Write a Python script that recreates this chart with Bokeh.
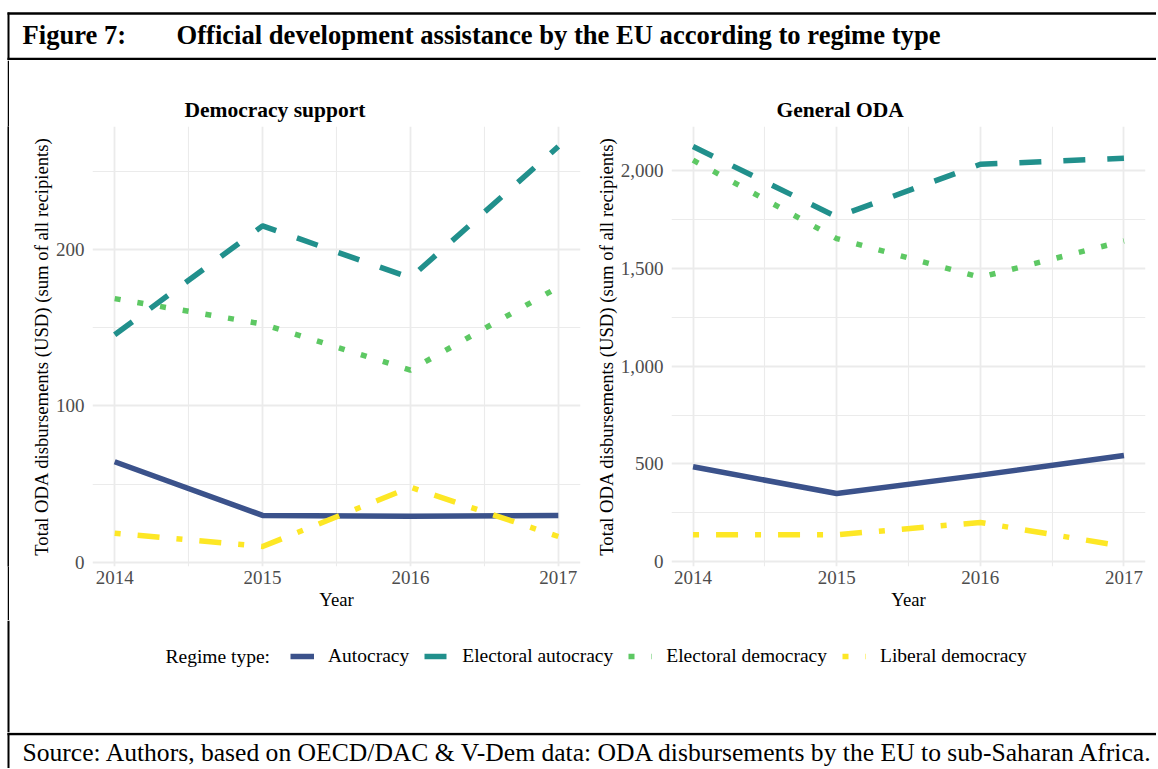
from bokeh.plotting import figure
from bokeh.layouts import column, row
from bokeh.models import (Range1d, FixedTicker, NumeralTickFormatter, Label, Legend,
                          LegendItem, Spacer)
from bokeh.embed import file_html
from bokeh.resources import INLINE

# ---------------- data ----------------
years = [2014, 2015, 2016, 2017]
minor_years = [2014.5, 2015.5, 2016.5]
regimes = ["Autocracy", "Electoral autocracy", "Electoral democracy", "Liberal democracy"]

ds_autocracy = [64.3, 30.0, 29.4, 30.0]
ds_electoral_autocracy = [145.6, 215.2, 182.0, 266.0]
ds_electoral_democracy = [168.7, 152.4, 123.0, 176.0]
ds_liberal_democracy = [18.6, 10.1, 48.0, 16.5]

oda_autocracy = [486, 349, 443, 543]
oda_electoral_autocracy = [2124, 1764, 2033, 2064]
oda_electoral_democracy = [2054, 1653, 1455, 1641]
oda_liberal_democracy = [138, 138, 201, 78]

ds_ticks = [0, 100, 200]
ds_minor = [50, 150, 250]
oda_ticks = [0, 500, 1000, 1500, 2000]
oda_minor = [250, 750, 1250, 1750]

# ---------------- style ----------------
colors = ["#3B528B", "#21908C", "#5DC863", "#FDE725"]
dashes = ["solid", "22 22", "6 17", "6 17 22 17"]
LW = 5.5
SERIF = "Liberation Serif"
TOTAL_W = 1156


def bare(width, height):
    p = figure(width=width, height=height, output_backend="svg", toolbar_location=None,
               x_range=Range1d(0, width), y_range=Range1d(height, 0),
               x_axis_location=None, y_axis_location=None, min_border=0)
    p.grid.visible = False
    p.outline_line_color = None
    p.background_fill_color = "white"
    p.border_fill_color = "white"
    return p


def frame_line(p, x0, y0, x1, y1, w=2.5):
    p.segment(x0=[x0], y0=[y0], x1=[x1], y1=[y1], line_color="black", line_width=w)


def panel(title, series, ticks, minor, width, bl, br, offset, fmt=None):
    vals = [v for s in series for v in s]
    lo, hi = min(vals), max(vals)
    pad = (hi - lo) * 0.05
    p = figure(width=width, height=560, output_backend="svg", toolbar_location=None,
               x_range=Range1d(2014 - 0.15, 2017 + 0.15),
               y_range=Range1d(lo - pad, hi + pad),
               min_border_left=bl, min_border_right=br, min_border_top=66,
               min_border_bottom=54)
    p.outline_line_color = None
    p.title.text = title
    p.title.text_font = SERIF
    p.title.text_font_size = "21.5px"
    p.title.text_font_style = "bold"
    p.title.text_color = "black"
    p.title.align = "left"
    p.title.offset = offset
    p.title.standoff = 10

    p.xaxis.ticker = FixedTicker(ticks=years, minor_ticks=minor_years)
    p.yaxis.ticker = FixedTicker(ticks=ticks, minor_ticks=minor)
    if fmt:
        p.yaxis.formatter = fmt
    for g in (p.xgrid, p.ygrid):
        g.grid_line_color = "#EBEBEB"
        g.grid_line_width = 1.8
        g.minor_grid_line_color = "#EBEBEB"
        g.minor_grid_line_width = 1.1
    for ax in (p.xaxis, p.yaxis):
        ax.axis_line_color = None
        ax.major_tick_line_color = None
        ax.minor_tick_line_color = None
        ax.major_tick_out = 0
        ax.major_tick_in = 0
        ax.minor_tick_out = 0
        ax.minor_tick_in = 0
        ax.major_label_text_font = SERIF
        ax.major_label_text_font_size = "19px"
        ax.major_label_text_color = "#4D4D4D"
        ax.axis_label_text_font = SERIF
        ax.axis_label_text_font_size = "18.7px"
        ax.axis_label_text_font_style = "normal"
        ax.axis_label_text_color = "black"
    p.xaxis.axis_label = "Year"
    p.xaxis.major_label_standoff = 4
    p.xaxis.axis_label_standoff = 2
    p.yaxis.axis_label = "Total ODA disbursements (USD) (sum of all recipients)"
    p.yaxis.major_label_standoff = 8
    p.yaxis.axis_label_standoff = 1

    for s, c, d in zip(series, colors, dashes):
        p.line(years, s, line_color=c, line_width=LW, line_dash=d,
               line_join="round", line_cap="butt")
    return p


left = panel("Democracy support",
             [ds_autocracy, ds_electoral_autocracy, ds_electoral_democracy, ds_liberal_democracy],
             ds_ticks, ds_minor, 580, 82, 10, 92)
right = panel("General ODA",
              [oda_autocracy, oda_electoral_autocracy, oda_electoral_democracy, oda_liberal_democracy],
              oda_ticks, oda_minor, 566, 81, 11, 105, NumeralTickFormatter(format="0,0"))

# left frame border for the middle row: a solid black strip
bar = figure(width=2, height=560, output_backend="svg", toolbar_location=None,
             x_axis_location=None, y_axis_location=None, min_border=0)
bar.grid.visible = False
bar.outline_line_color = None
bar.background_fill_color = "black"
bar.border_fill_color = "black"

# ---------------- header ----------------
head = bare(TOTAL_W, 60)
frame_line(head, 7, 13, TOTAL_W, 13)
frame_line(head, 7, 58.5, TOTAL_W, 58.5)
frame_line(head, 8, 12, 8, 60, 2)
head.add_layout(Label(x=22, y=34, text="Figure 7:", text_baseline="middle",
                      text_font=SERIF, text_font_size="26.6px", text_font_style="bold",
                      text_color="black"))
head.add_layout(Label(x=176, y=34,
                      text="Official development assistance by the EU according to regime type",
                      text_baseline="middle", text_font=SERIF, text_font_size="26.6px",
                      text_font_style="bold", text_color="black"))

# ---------------- legend ----------------
LEG_H = 112
leg = bare(TOTAL_W, LEG_H)
frame_line(leg, 8, 0, 8, LEG_H, 2)
items = []
# legend keys carry the real series (they sit outside this strip's visible range)
for name, s, c, d in zip(regimes,
                         [ds_autocracy, ds_electoral_autocracy, ds_electoral_democracy, ds_liberal_democracy],
                         colors, dashes):
    r = leg.line(x=years, y=s, line_color=c, line_width=LW, line_dash=d, line_cap="butt")
    items.append(LegendItem(label=name, renderers=[r]))
legend = Legend(items=items, orientation="horizontal", location=(290, LEG_H - 36 - 11),
                glyph_width=24, glyph_height=20, label_standoff=14, spacing=15,
                padding=0, margin=0, border_line_color=None, background_fill_alpha=0,
                label_text_font=SERIF, label_text_font_size="19.5px", label_text_color="black",
                label_text_baseline="middle")
leg.add_layout(legend)
leg.add_layout(Label(x=165, y=36, text="Regime type:", text_baseline="middle",
                     text_font=SERIF, text_font_size="19.5px", text_color="black"))

# ---------------- footer ----------------
FOOT_H = 36
foot = bare(TOTAL_W, FOOT_H)
frame_line(foot, 7, 1.5, TOTAL_W, 1.5)
frame_line(foot, 8, 0, 8, FOOT_H, 2)
foot.add_layout(Label(x=22, y=20,
                      text="Source: Authors, based on OECD/DAC & V-Dem data: ODA disbursements by the EU to sub-Saharan Africa.",
                      text_baseline="middle", text_font=SERIF, text_font_size="25.6px",
                      text_color="black"))

layout = column(head, row(Spacer(width=7, height=560), bar, Spacer(width=1, height=560), left, right),
                leg, foot)
open("out.html", "w").write(file_html(layout, INLINE))
